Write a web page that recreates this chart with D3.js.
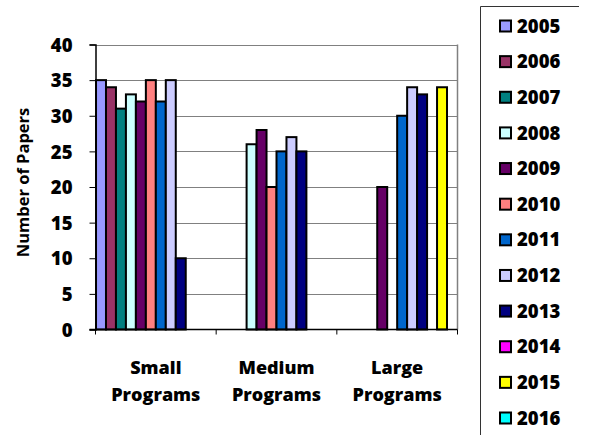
<!DOCTYPE html>
<html>
<head>
<meta charset="utf-8">
<script src="https://cdn.jsdelivr.net/npm/d3@7"></script>
<style>
  html, body { margin: 0; padding: 0; background: #fff; }
  svg { display: block; }
  text { font-family: "Open Sans", "Lato", sans-serif; fill: #000; }
</style>
</head>
<body>
<svg id="chart" width="599" height="435"></svg>
<script>
const categories = ["Small Programs", "Medium Programs", "Large Programs"];
const years = ["2005","2006","2007","2008","2009","2010","2011","2012","2013","2014","2015","2016"];
const colors = ["#9999FF","#993366","#008080","#CCFFFF","#660066","#FF8080","#0066CC","#CCCCFF","#000080","#FF00FF","#FFFF00","#00FFFF"];
// values per year, in category order [Small, Medium, Large]
const v2005 = [35, 0, 0];
const v2006 = [34, 0, 0];
const v2007 = [31, 0, 0];
const v2008 = [33, 26, 0];
const v2009 = [32, 28, 20];
const v2010 = [35, 20, 0];
const v2011 = [32, 25, 30];
const v2012 = [35, 27, 34];
const v2013 = [10, 25, 33];
const v2014 = [0, 0, 0];
const v2015 = [0, 0, 34];
const v2016 = [0, 0, 0];
const yTicks = [0, 5, 10, 15, 20, 25, 30, 35, 40];
const yTitle = "Number of Papers";

const seriesValues = [v2005, v2006, v2007, v2008, v2009, v2010, v2011, v2012, v2013, v2014, v2015, v2016];

const svg = d3.select("#chart");
const L = 95.5, R = 457.5, T = 44.5, B = 329.5;

const x0 = d3.scaleBand().domain(categories).range([L, R]).paddingInner(0).paddingOuter(0);
const x1 = d3.scaleBand().domain(years).range([0, x0.bandwidth()]).paddingInner(0).paddingOuter(0.0525);
const y = d3.scaleLinear().domain([0, 40]).range([B, T]);

// gridlines
svg.append("g").selectAll("line").data(yTicks.filter(d => d > 0)).join("line")
  .attr("x1", L).attr("x2", R)
  .attr("y1", d => Math.round(y(d)) + 0.5).attr("y2", d => Math.round(y(d)) + 0.5)
  .attr("stroke", "#808080").attr("stroke-width", 1);
// right border
svg.append("line").attr("x1", R).attr("x2", R).attr("y1", T).attr("y2", B)
  .attr("stroke", "#808080").attr("stroke-width", 1.5);

// bars
const barData = [];
years.forEach((yr, i) => {
  categories.forEach((c, j) => {
    const val = seriesValues[i][j];
    if (val > 0) barData.push({ year: yr, cat: c, value: val, color: colors[i] });
  });
});
svg.append("g").selectAll("rect").data(barData).join("rect")
  .attr("x", d => x0(d.cat) + x1(d.year))
  .attr("y", d => y(d.value))
  .attr("width", x1.bandwidth())
  .attr("height", d => y(0) - y(d.value))
  .attr("fill", d => d.color)
  .attr("stroke", "#000").attr("stroke-width", 2);

// y axis
const yAxis = d3.axisLeft(y).tickValues(yTicks).tickSize(6).tickPadding(17).tickFormat(d3.format("d"));
const gy = svg.append("g").attr("transform", `translate(${L},0)`).call(yAxis);
gy.select(".domain").attr("stroke", "#000").attr("stroke-width", 1.5);
gy.selectAll(".tick line").attr("stroke", "#000").attr("stroke-width", 1);
gy.selectAll(".tick text").attr("font-size", 18.5).attr("font-weight", 800)
  .attr("font-family", "'Open Sans', sans-serif").attr("dy", "0.36em");

// x axis
const gx = svg.append("g").attr("transform", `translate(0,${B})`);
gx.append("line").attr("x1", L - 6).attr("x2", R).attr("y1", 0).attr("y2", 0)
  .attr("stroke", "#000").attr("stroke-width", 1.5);
const boundaries = categories.map(c => x0(c)).concat([x0(categories[categories.length - 1]) + x0.bandwidth()]);
gx.selectAll("line.tk").data(boundaries).join("line").attr("class", "tk")
  .attr("x1", d => d).attr("x2", d => d).attr("y1", 0).attr("y2", 5)
  .attr("stroke", "#000").attr("stroke-width", 1);
const catLabels = gx.selectAll("text.cat").data(categories).join("text").attr("class", "cat")
  .attr("x", d => x0(d) + x0.bandwidth() / 2)
  .attr("text-anchor", "middle")
  .attr("font-size", 18).attr("font-weight", 800);
catLabels.each(function(d) {
  const parts = d.split(" ");
  const t = d3.select(this);
  parts.forEach((p, k) => {
    t.append("tspan").attr("x", x0(d) + x0.bandwidth() / 2).attr("y", 44 + k * 27).text(p);
  });
});

// y title
svg.append("text")
  .attr("transform", `translate(29,${(103 + 262) / 2}) rotate(-90)`)
  .attr("text-anchor", "middle")
  .attr("font-size", 16.5).attr("font-weight", 700)
  .text(yTitle);

// legend
const lg = svg.append("g");
lg.append("path").attr("d", "M480.5,440 V6.5 H579")
  .attr("fill", "none").attr("stroke", "#333").attr("stroke-width", 1);
const rowY = d3.scalePoint().domain(years).range([26, 418]);
const items = lg.selectAll("g.item").data(years).join("g").attr("class", "item")
  .attr("transform", d => `translate(0,${rowY(d)})`);
items.append("rect").attr("x", 500).attr("y", -5.5).attr("width", 11).attr("height", 11)
  .attr("fill", (d, i) => colors[i]).attr("stroke", "#000").attr("stroke-width", 2);
items.append("text").attr("x", 517).attr("dy", "0.36em")
  .attr("font-size", 18.5).attr("font-weight", 800).text(d => d);
</script>
</body>
</html>
